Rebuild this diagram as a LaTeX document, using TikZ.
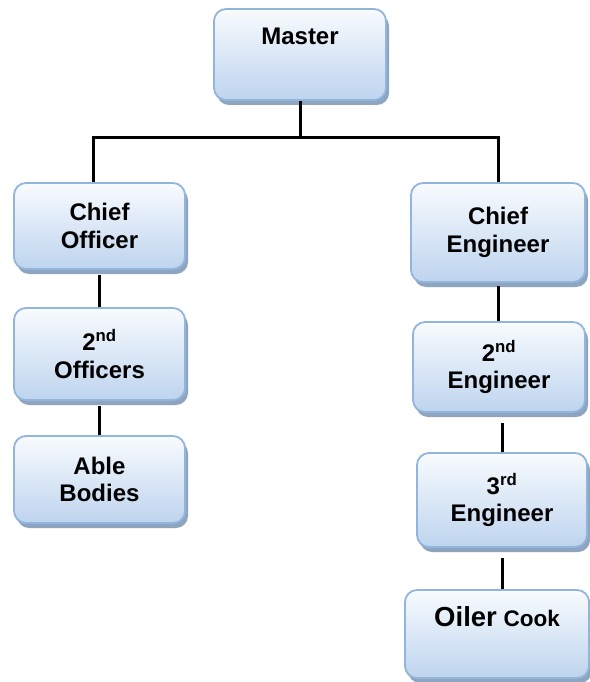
\documentclass[tikz,border=0pt]{standalone}
\usepackage{fontspec}
\setmainfont{Liberation Sans}
\usetikzlibrary{shadows}
\definecolor{boxtop}{HTML}{F8FBFE}
\definecolor{boxbot}{HTML}{BED4EE}
\definecolor{boxborder}{HTML}{92B5DD}
\definecolor{shadowc}{HTML}{8EA4BF}
\tikzset{
  box/.style={rounded corners=12pt, draw=boxborder, line width=1.8pt,
    top color=boxtop, bottom color=boxbot, align=center, inner sep=0pt,
    font=\bfseries\fontsize{24}{27.5}\selectfont,
    drop shadow={shadow xshift=3pt, shadow yshift=-5pt, fill=shadowc, opacity=1}},
  link/.style={line width=3pt, black}
}
\begin{document}
\begin{tikzpicture}[x=1pt, y=-1pt]
\useasboundingbox (0,0) rectangle (589,682);
% boxes
\node[box, minimum width=172pt, minimum height=91pt] (master) at (300,54.5) {Master\\\strut};
\node[box, minimum width=171pt, minimum height=86pt] (co) at (99.5,226) {Chief\\Officer};
\node[box, minimum width=171pt, minimum height=92pt] (so) at (99.5,354) {2\textsuperscript{nd}\\Officers};
\node[box, minimum width=171pt, minimum height=87pt] (ab) at (99.5,479.5) {Able\\Bodies};
\node[box, minimum width=174pt, minimum height=99pt] (ce) at (498,232.5) {Chief\\Engineer};
\node[box, minimum width=172pt, minimum height=90pt] (se) at (499,367) {2\textsuperscript{nd}\\Engineer};
\node[box, minimum width=170pt, minimum height=94pt] (te) at (502,500) {3\textsuperscript{rd}\\Engineer};
\node[box, minimum width=184pt, minimum height=88pt] (oc) at (497,634) {{\fontsize{27.5}{27.5}\selectfont Oiler} {\fontsize{22.5}{27.5}\selectfont Cook}\\\strut};
% connectors
\coordinate (barL) at (93,137);
\coordinate (barM) at (300,137);
\coordinate (barR) at (498,137);
\draw[link] (master.south) -- (barM);
\draw[link] (barL |- co.north) -- (barL) -- (barR) -- (ce.north);
\draw[link, shorten <=5pt] (co.south) -- (so.north);
\draw[link, shorten <=5pt] (so.south) -- (ab.north);
\draw[link, shorten <=3pt] (ce.south) -- (ce.south |- se.north);
\draw[link, shorten <=10pt] (te.north |- se.south) -- (te.north);
\draw[link, shorten <=10pt] (te.south) -- (te.south |- oc.north);
\end{tikzpicture}
\end{document}
